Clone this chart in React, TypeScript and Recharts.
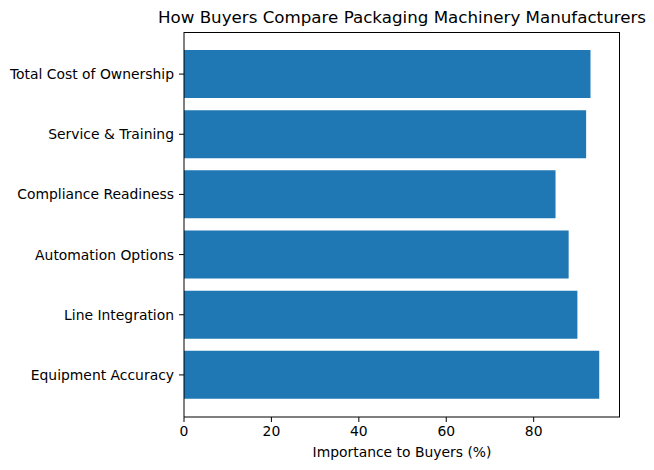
import { BarChart, Bar, XAxis, YAxis } from "recharts";

const categories: string[] = [
  "Equipment Accuracy",
  "Line Integration",
  "Automation Options",
  "Compliance Readiness",
  "Service & Training",
  "Total Cost of Ownership",
];
const importance: number[] = [95, 90, 88, 85, 92, 93];
const xTicks: number[] = [0, 20, 40, 60, 80];

const data = categories.map((name, i) => ({ name, value: importance[i] }));

const font = "'DejaVu Sans', sans-serif";
const tickStyle = { fontSize: 13.9, fill: "#000", fontFamily: font };

export default function App() {
  return (
    <div style={{ position: "absolute", left: 0, top: 0, width: 654, height: 470, background: "#fff" }}>
      <div
        style={{
          position: "absolute",
          left: 102,
          width: 600,
          top: 7,
          textAlign: "center",
          fontFamily: font,
          fontSize: 16.7,
          color: "#000",
          whiteSpace: "nowrap",
          lineHeight: "20px",
        }}
      >
        How Buyers Compare Packaging Machinery Manufacturers
      </div>
      <BarChart
        width={654}
        height={470}
        data={data}
        layout="vertical"
        margin={{ top: 32, right: 34, bottom: 0, left: 0 }}
      >
        <XAxis
          type="number"
          domain={[0, 99.75]}
          ticks={xTicks}
          allowDataOverflow
          height={53}
          tickSize={5}
          tickMargin={4}
          stroke="#000"
          tick={tickStyle}
          label={{
            value: "Importance to Buyers (%)",
            position: "insideBottom",
            offset: 13,
            style: { fontSize: 13.9, fill: "#000", fontFamily: font },
          }}
        />
        <YAxis
          type="category"
          dataKey="name"
          reversed
          width={184}
          tickSize={5}
          tickMargin={5}
          padding={{ top: 12, bottom: 12 }}
          stroke="#000"
          tick={tickStyle}
          interval={0}
        />
        <Bar dataKey="value" fill="#1f77b4" barSize={48} isAnimationActive={false} />
      </BarChart>
      {/* frame for the top and right spines */}
      <div
        style={{
          position: "absolute",
          left: 184,
          top: 32,
          width: 436,
          height: 385,
          border: "1px solid #000",
          borderLeft: "none",
          borderBottom: "none",
          boxSizing: "border-box",
          pointerEvents: "none",
        }}
      />
    </div>
  );
}
